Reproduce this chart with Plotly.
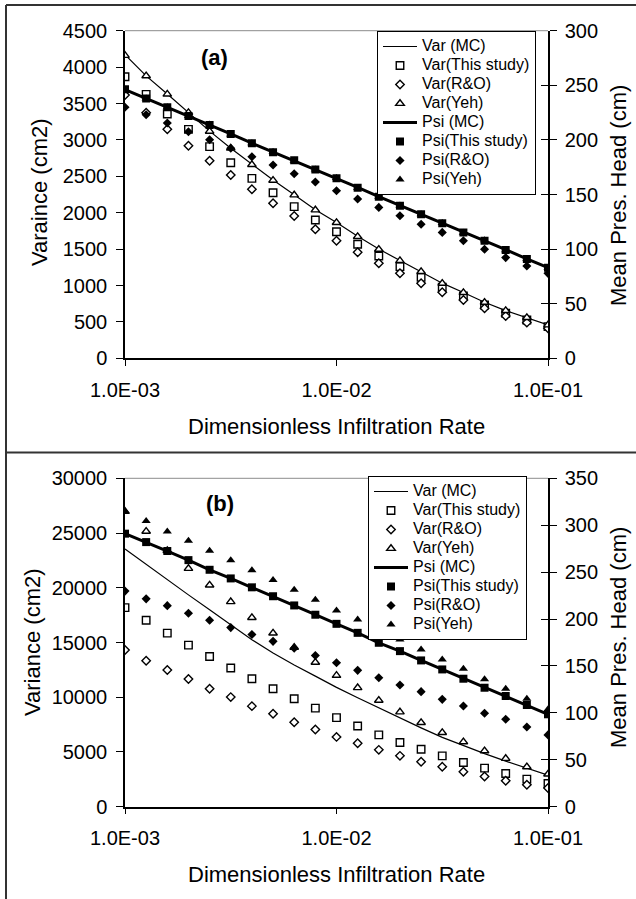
import plotly.graph_objects as go

# ---------------- data ----------------
k = list(range(21))
x_rate = [10 ** (-3 + 0.1 * i) for i in k]

# Panel (a)
var_mc_a = [4170, 3880, 3630, 3380, 3120, 2885, 2665, 2450, 2245, 2040, 1865, 1675, 1500, 1342, 1192, 1032, 903, 770, 655, 558, 458]
var_this_a = [3868, 3626, 3356, 3145, 2907, 2687, 2472, 2275, 2083, 1900, 1739, 1566, 1405, 1259, 1112, 975, 856, 732, 618, 526, 435]
var_ro_a = [3617, 3374, 3145, 2920, 2714, 2518, 2321, 2129, 1955, 1772, 1615, 1456, 1305, 1167, 1030, 906, 801, 687, 581, 490, 412]
var_yeh_a = [4160, 3880, 3628, 3376, 3118, 2885, 2660, 2445, 2243, 2037, 1863, 1671, 1497, 1341, 1190, 1030, 902, 769, 655, 559, 458]
psi_mc_a = [246, 238, 230, 222, 213.5, 205.5, 197, 189, 181, 173, 165, 156.5, 148, 140, 132, 123.5, 115.5, 107.5, 99.5, 91, 83]
psi_this_a = [246.3, 238, 230, 222, 213.7, 205.4, 197, 188.8, 181.3, 172.8, 164.8, 156.2, 148, 139.8, 131.8, 123.6, 115.3, 107.7, 99.2, 90.9, 83]
psi_ro_a = [229.9, 223, 215.5, 207.5, 200.2, 192.3, 184.6, 177, 169, 161.5, 153.5, 145.9, 138.2, 130.6, 122.7, 115.3, 107.7, 99.8, 92.2, 84.5, 77.8]
psi_yeh_a = [246, 238, 230, 222, 214, 205, 197, 189, 181, 173, 165, 156, 148, 140, 132, 124, 115, 108, 99, 91, 83]

# Panel (b)
var_mc_b = [23550, 22130, 20720, 19350, 18000, 16600, 15250, 14050, 12950, 11930, 10900, 9960, 9020, 8100, 7200, 6330, 5570, 4850, 4160, 3500, 2880]
var_this_b = [18182, 17036, 15855, 14764, 13727, 12673, 11689, 10774, 9858, 9003, 8136, 7377, 6558, 5859, 5252, 4645, 4038, 3522, 3036, 2520, 2125]
var_ro_b = [14309, 13336, 12491, 11673, 10774, 10011, 9187, 8485, 7722, 7050, 6376, 5799, 5192, 4645, 4099, 3643, 3188, 2763, 2368, 2004, 1700]
var_yeh_b = [26970, 25155, 23400, 21764, 20245, 18727, 17273, 15855, 14545, 13182, 11992, 10869, 9715, 8653, 7681, 6770, 5920, 5100, 4402, 3643, 2975]
psi_mc_b = [291, 282, 272.5, 262.8, 252.5, 243.3, 233.8, 224.3, 214.5, 204.6, 194.9, 185.3, 174.7, 165.8, 155.9, 146.3, 136.4, 126.8, 118, 108.4, 98.5]
psi_this_b = [291, 282, 272.5, 262.8, 252.5, 243.3, 233.8, 224.3, 214.5, 204.6, 194.9, 185.3, 174.7, 165.8, 155.9, 146.3, 136.4, 126.8, 118, 108.4, 98.5]
psi_ro_b = [229.8, 221.5, 214.3, 206.2, 198.7, 190.9, 183.5, 176.2, 169, 161.1, 153.4, 145.3, 137.5, 129.7, 122.6, 114.4, 107.4, 99.6, 93.2, 85, 76.5]
psi_yeh_b = [315, 304.4, 293.4, 283.5, 272.9, 262.6, 252, 241.7, 231.2, 220.6, 209, 199.5, 188.8, 178.2, 167.6, 157, 147, 135.7, 125.8, 115.1, 103.8]

x_tickvals = [0.001, 0.01, 0.1]
x_ticktext = ["1.0E-03", "1.0E-02", "1.0E-01"]

series_names = ["Var (MC)", "Var(This study)", "Var(R&O)", "Var(Yeh)",
                "Psi (MC)", "Psi(This study)", "Psi(R&O)", "Psi(Yeh)"]

# ---------------- figure ----------------
W, H = 636, 899
FONT = "Liberation Sans, Arial, sans-serif"
LEG_TXT = 16


def px_x(p):
    return p / W


def px_y(p):
    return (H - p) / H


def lname(s):
    return '<span style="font-size:%dpx">%s</span>' % (LEG_TXT, s)


fig = go.Figure()

SQ, DI, TR = 7.5, 6.5, 7.5


def add_panel(xa, ya_l, ya_r, legend, vm, vt, vr, vy, pm, pt, pr, py):
    hollow = dict(color="white", line=dict(color="black", width=1.4))
    n = series_names
    fig.add_trace(go.Scatter(x=x_rate, y=vm, mode="lines", name=lname(n[0]),
                             line=dict(color="black", width=1.2),
                             xaxis=xa, yaxis=ya_l, legend=legend, legendrank=1000))
    fig.add_trace(go.Scatter(x=x_rate, y=vt, mode="markers", name=lname(n[1]),
                             marker=dict(symbol="square", size=SQ, **hollow),
                             xaxis=xa, yaxis=ya_l, legend=legend, legendrank=1001))
    fig.add_trace(go.Scatter(x=x_rate, y=vr, mode="markers", name=lname(n[2]),
                             marker=dict(symbol="diamond", size=DI, **hollow),
                             xaxis=xa, yaxis=ya_l, legend=legend, legendrank=1002))
    fig.add_trace(go.Scatter(x=x_rate, y=vy, mode="markers", name=lname(n[3]),
                             marker=dict(symbol="triangle-up", size=TR, **hollow),
                             xaxis=xa, yaxis=ya_l, legend=legend, legendrank=1003))
    fig.add_trace(go.Scatter(x=x_rate, y=pm, mode="lines", name=lname(n[4]),
                             line=dict(color="black", width=3),
                             xaxis=xa, yaxis=ya_r, legend=legend, legendrank=1004))
    fig.add_trace(go.Scatter(x=x_rate, y=py, mode="markers", name=lname(n[7]),
                             marker=dict(symbol="triangle-up", size=TR + 0.5, color="black"),
                             xaxis=xa, yaxis=ya_r, legend=legend, legendrank=1007))
    fig.add_trace(go.Scatter(x=x_rate, y=pt, mode="markers", name=lname(n[5]),
                             marker=dict(symbol="square", size=SQ + 0.5, color="black"),
                             xaxis=xa, yaxis=ya_r, legend=legend, legendrank=1005))
    fig.add_trace(go.Scatter(x=x_rate, y=pr, mode="markers", name=lname(n[6]),
                             marker=dict(symbol="diamond", size=DI + 0.5, color="black"),
                             xaxis=xa, yaxis=ya_r, legend=legend, legendrank=1006))


add_panel("x", "y", "y2", "legend", var_mc_a, var_this_a, var_ro_a, var_yeh_a,
          psi_mc_a, psi_this_a, psi_ro_a, psi_yeh_a)
add_panel("x2", "y3", "y4", "legend2", var_mc_b, var_this_b, var_ro_b, var_yeh_b,
          psi_mc_b, psi_this_b, psi_ro_b, psi_yeh_b)

# empty traces so the inner-tick overlay axes are drawn
fig.add_trace(go.Scatter(x=[None], y=[None], xaxis="x", yaxis="y5", showlegend=False, hoverinfo="skip"))
fig.add_trace(go.Scatter(x=[None], y=[None], xaxis="x2", yaxis="y6", showlegend=False, hoverinfo="skip"))

xdom = [px_x(125), px_x(548)]
ydom_a = [px_y(358.3), px_y(30.7)]
ydom_b = [px_y(806.7), px_y(478.3)]

tickfont = dict(family=FONT, size=20, color="black")

xcommon = dict(type="log", range=[-3, -1], tickvals=x_tickvals, ticktext=x_ticktext,
               ticks="outside", ticklen=6, tickcolor="black", tickwidth=1.2,
               showline=True, linecolor="black", linewidth=1.5, showgrid=False,
               zeroline=False, tickfont=tickfont, ticklabelstandoff=7, domain=xdom,
               automargin=False)

ycommon = dict(ticks="outside", ticklen=7, tickcolor="black", tickwidth=1.2,
               showline=True, linecolor="black", linewidth=1.5, showgrid=False,
               zeroline=False, tickfont=tickfont, tickformat="d", automargin=False)

inner = dict(ticks="inside", ticklen=7, tickcolor="black", tickwidth=1.2,
             showticklabels=False, showline=False, showgrid=False, zeroline=False,
             automargin=False)

legcommon = dict(xanchor="left", yanchor="top", bgcolor="white", bordercolor="black",
                 borderwidth=1, font=dict(family=FONT, size=12, color="black"),
                 tracegroupgap=0, traceorder="normal", itemwidth=34)

fig.update_layout(
    width=W, height=H, autosize=False,
    margin=dict(l=0, r=0, t=0, b=0, pad=0, autoexpand=False),
    paper_bgcolor="white", plot_bgcolor="white",
    font=dict(family=FONT, color="black"),
    xaxis=dict(anchor="y", **xcommon),
    xaxis2=dict(anchor="y3", **xcommon),
    yaxis=dict(domain=ydom_a, range=[0, 4500], dtick=500, tick0=0, anchor="x",
               side="left", ticklabelstandoff=5, **ycommon),
    yaxis2=dict(domain=ydom_a, range=[0, 300], dtick=50, tick0=0, anchor="x",
                overlaying="y", side="right", ticklabelstandoff=4, **ycommon),
    yaxis5=dict(domain=ydom_a, range=[0, 300], dtick=50, tick0=0, anchor="x",
                overlaying="y", side="right", **inner),
    yaxis3=dict(domain=ydom_b, range=[0, 30000], dtick=5000, tick0=0, anchor="x2",
                side="left", ticklabelstandoff=5, **ycommon),
    yaxis4=dict(domain=ydom_b, range=[0, 350], dtick=50, tick0=0, anchor="x2",
                overlaying="y3", side="right", ticklabelstandoff=4, **ycommon),
    yaxis6=dict(domain=ydom_b, range=[0, 350], dtick=50, tick0=0, anchor="x2",
                overlaying="y3", side="right", **inner),
    legend=dict(x=px_x(377), y=px_y(31), **legcommon),
    legend2=dict(x=px_x(368), y=px_y(476), **legcommon),
    showlegend=True,
)

# axis titles and panel labels as annotations
ann = [
    dict(text="Varaince (cm2)", x=px_x(39), y=px_y(192), textangle=-90, size=22),
    dict(text="Mean Pres. Head (cm)", x=px_x(618), y=px_y(196), textangle=-90, size=22),
    dict(text="Dimensionless Infiltration Rate", x=px_x(336), y=px_y(427), textangle=0, size=22),
    dict(text="Variance (cm2)", x=px_x(32), y=px_y(642), textangle=-90, size=22),
    dict(text="Mean Pres. Head (cm)", x=px_x(618), y=px_y(638), textangle=-90, size=22),
    dict(text="Dimensionless Infiltration Rate", x=px_x(336), y=px_y(874), textangle=0, size=22),
    dict(text="<b>(a)</b>", x=px_x(214), y=px_y(57), textangle=0, size=22),
    dict(text="<b>(b)</b>", x=px_x(220), y=px_y(503), textangle=0, size=22),
]
for a in ann:
    fig.add_annotation(text=a["text"], x=a["x"], y=a["y"], xref="paper", yref="paper",
                       xanchor="center", yanchor="middle", showarrow=False,
                       textangle=a["textangle"],
                       font=dict(family=FONT, size=a["size"], color="black"))

# panel frames and plot-area top borders
border = dict(color="#333333", width=2)
shapes = [
    dict(type="line", xref="paper", yref="paper", x0=px_x(6), x1=1, y0=px_y(5), y1=px_y(5), line=border),
    dict(type="line", xref="paper", yref="paper", x0=px_x(6), x1=px_x(6), y0=0, y1=px_y(5), line=border),
    dict(type="line", xref="paper", yref="paper", x0=px_x(6), x1=1, y0=px_y(452.5), y1=px_y(452.5), line=border),
    dict(type="line", xref="paper", yref="paper", x0=xdom[0], x1=xdom[1], y0=ydom_a[1], y1=ydom_a[1],
         line=dict(color="#8c8c8c", width=1)),
    dict(type="line", xref="paper", yref="paper", x0=xdom[0], x1=xdom[1], y0=ydom_b[1], y1=ydom_b[1],
         line=dict(color="#8c8c8c", width=1)),
]
for s in shapes:
    fig.add_shape(**s)

fig.write_html("out.html")
